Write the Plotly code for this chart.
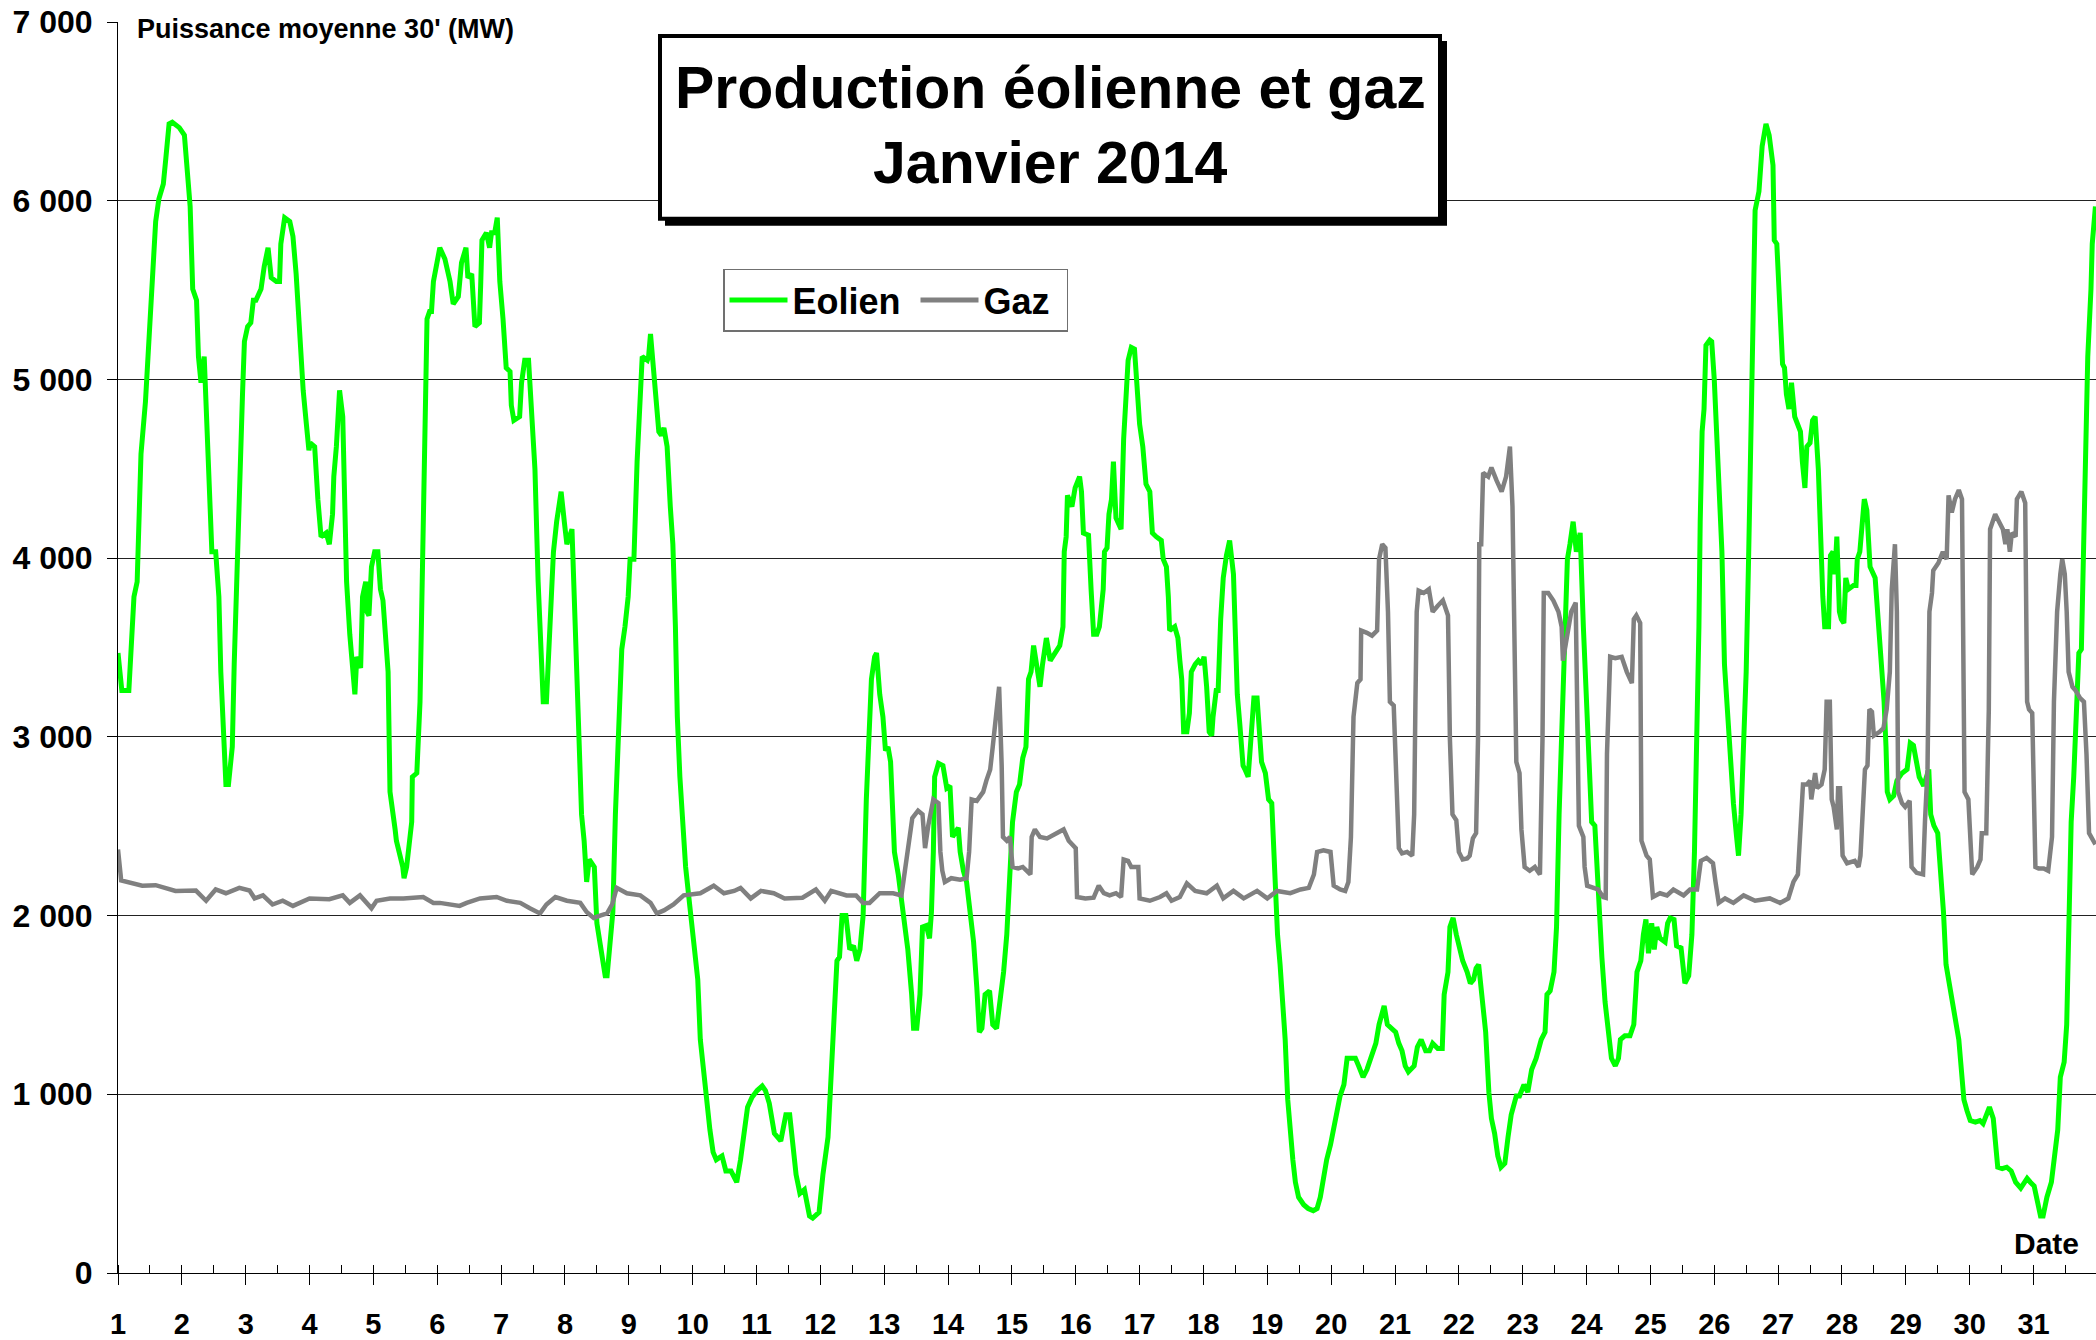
import plotly.graph_objects as go

# ---------------- data ----------------
EOL_DAY = [1.00,1.06,1.17,1.25,1.30,1.36,1.43,1.49,1.54,1.59,1.64,1.71,1.75,1.80,1.85,1.96,2.04,2.09,2.13,2.17,2.23,2.26,2.30,2.35,2.39,2.43,2.47,2.53,2.58,2.61,2.66,2.69,2.73,2.79,2.82,2.87,2.91,2.95,2.98,3.03,3.08,3.12,3.16,3.24,3.29,3.35,3.40,3.48,3.53,3.55,3.61,3.69,3.74,3.79,3.84,3.87,3.90,3.95,3.99,4.01,4.08,4.13,4.18,4.26,4.31,4.36,4.38,4.42,4.47,4.52,4.58,4.63,4.71,4.74,4.80,4.83,4.88,4.90,4.93,4.97,5.02,5.07,5.11,5.15,5.19,5.23,5.26,5.30,5.34,5.36,5.41,5.46,5.48,5.52,5.56,5.60,5.61,5.68,5.73,5.75,5.78,5.80,5.84,5.88,5.91,5.94,5.99,
    6.04,6.12,6.20,6.25,6.33,6.38,6.45,6.48,6.54,6.59,6.66,6.68,6.70,6.77,6.82,6.85,6.90,6.94,6.98,7.03,7.08,7.14,7.16,7.20,7.29,7.32,7.37,7.43,7.48,7.53,7.58,7.62,7.66,7.71,7.77,7.82,7.87,7.94,7.99,8.03,8.11,8.16,8.21,8.26,8.30,8.34,8.38,8.46,8.50,8.55,8.59,8.63,8.66,8.71,8.75,8.79,8.84,8.89,8.94,8.99,9.02,9.08,9.13,9.18,9.21,9.29,9.31,9.34,9.38,9.42,9.47,9.51,9.55,9.60,9.65,9.69,9.73,9.76,9.80,9.84,9.89,9.94,9.99,10.04,10.08,10.12,10.18,10.22,10.27,10.32,10.37,10.46,10.52,10.60,10.69,10.75,10.80,10.86,10.93,11.01,11.09,11.14,11.20,
    11.28,11.38,11.46,11.52,11.57,11.62,11.68,11.75,11.83,11.88,11.98,12.04,12.12,12.17,12.22,12.26,12.30,12.34,12.40,12.46,12.52,12.57,12.62,12.67,12.72,12.76,12.80,12.85,12.88,12.93,12.98,13.02,13.06,13.10,13.13,13.16,13.22,13.27,13.32,13.37,13.43,13.46,13.51,13.56,13.60,13.66,13.71,13.74,13.77,13.79,13.85,13.92,13.98,14.03,14.07,14.11,14.16,14.19,14.24,14.29,14.34,14.40,14.45,14.49,14.53,14.58,14.65,14.70,14.76,14.81,14.87,14.92,14.97,15.01,15.07,15.12,15.17,15.22,15.26,15.30,15.34,15.39,15.44,15.48,15.54,15.60,15.68,15.75,15.80,15.82,15.85,15.87,15.94,15.99,16.06,16.09,16.12,16.20,16.24,16.28,16.33,
    16.37,16.43,16.45,16.49,16.52,16.56,16.59,16.63,16.68,16.71,16.75,16.79,16.82,16.87,16.92,16.96,17.00,17.05,17.10,17.16,17.20,17.26,17.34,17.37,17.42,17.45,17.47,17.55,17.60,17.63,17.66,17.69,17.74,17.78,17.81,17.87,17.92,17.97,18.01,18.05,18.09,18.13,18.15,18.20,18.23,18.27,18.31,18.36,18.41,18.47,18.49,18.53,18.57,18.62,18.65,18.70,18.76,18.79,18.84,18.88,18.91,18.97,19.02,19.07,19.10,19.12,19.16,19.20,19.24,19.28,19.32,19.36,19.40,19.44,19.49,19.57,19.64,19.72,19.78,19.83,19.89,19.93,19.99,20.04,20.10,20.14,20.20,20.25,20.31,20.38,20.43,20.50,20.56,20.63,20.70,20.75,20.80,20.83,20.88,20.95,21.01,21.06,21.11,21.16,21.21,21.30,21.35,21.41,21.48,
    21.54,21.59,21.67,21.74,21.77,21.83,21.86,21.91,21.96,22.01,22.06,22.13,22.18,22.23,22.27,22.31,22.37,22.42,22.47,22.51,22.56,22.61,22.66,22.72,22.77,22.82,22.90,22.95,23.02,23.08,23.14,23.21,23.29,23.35,23.38,23.43,23.49,23.53,23.57,23.61,23.66,23.70,23.74,23.79,23.84,23.90,23.95,24.00,24.04,24.08,24.13,24.18,24.24,24.29,24.34,24.39,24.45,24.50,24.53,24.60,24.68,24.74,24.79,24.85,24.89,24.93,24.97,25.02,25.06,25.10,25.15,25.23,25.27,25.31,25.37,25.41,25.48,25.51,25.54,25.60,25.65,25.69,25.73,25.76,25.78,25.81,25.84,25.87,25.93,25.96,26.00,26.04,26.07,26.12,26.16,26.21,26.26,26.30,26.35,26.38,26.42,26.46,26.50,26.54,26.58,26.61,26.64,26.70,
    26.75,26.81,26.86,26.92,26.94,26.98,27.03,27.07,27.10,27.13,27.17,27.21,27.26,27.30,27.35,27.38,27.42,27.45,27.50,27.54,27.58,27.63,27.66,27.70,27.73,27.79,27.82,27.86,27.89,27.92,27.96,27.99,28.03,28.06,28.10,28.18,28.22,28.24,28.28,28.35,28.39,28.44,28.52,28.56,28.61,28.66,28.69,28.71,28.75,28.81,28.86,28.94,29.02,29.07,29.12,29.16,29.21,29.28,29.36,29.39,29.44,29.50,29.54,29.59,29.63,29.67,29.72,29.77,29.83,29.86,29.91,29.96,30.01,30.09,30.16,30.21,30.26,30.31,30.37,30.40,30.44,30.51,30.58,30.65,30.72,30.80,30.85,30.90,30.95,31.01,31.06,31.11,31.15,31.21,31.28,31.33,31.38,31.42,31.48,31.52,31.55,31.59,31.63,31.68,31.71,31.75,31.78,31.82,31.85,31.90,31.92,31.97]

EOL_MW = [3469,3259,3259,3784,3868,4582,4876,5254,5464,5884,6010,6094,6241,6430,6439,6409,6367,6136,5968,5506,5443,5128,4981,5128,4750,4246,4036,4036,3784,3364,2860,2734,2734,2944,3406,4036,4624,4918,5212,5296,5317,5443,5443,5506,5632,5737,5569,5548,5548,5758,5905,5884,5800,5590,5296,5086,4939,4750,4603,4645,4624,4330,4120,4141,4078,4246,4456,4624,4939,4792,3868,3574,3238,3448,3385,3784,3868,3700,3679,3952,4036,4036,3826,3763,3532,3364,2692,2608,2482,2419,2356,2272,2209,2272,2398,2524,2776,2797,3196,3616,4456,4876,5338,5380,5380,5548,5653,
    5737,5674,5548,5422,5464,5653,5737,5569,5590,5296,5317,5527,5779,5821,5737,5821,5821,5905,5548,5338,5065,5044,4855,4771,4792,4981,5107,5107,4792,4498,3868,3532,3196,3196,3616,4036,4204,4372,4204,4078,4162,3616,2986,2566,2419,2188,2314,2272,1957,1852,1768,1663,1663,1831,2020,2566,3070,3490,3616,3784,3994,3994,4540,4960,5128,5107,5128,5254,5044,4918,4708,4687,4729,4624,4288,4078,3616,3112,2776,2524,2272,2104,1936,1810,1642,1306,1096,949,802,676,634,655,571,571,508,634,781,928,983,1021,1046,1021,949,
    781,739,886,886,718,550,445,466,319,307,340,550,760,1138,1516,1747,1768,2000,2000,1810,1831,1747,1810,2000,2650,2986,3322,3448,3469,3238,3112,2923,2944,2860,2524,2356,2230,2104,1936,1810,1558,1369,1369,1558,1936,1944,1873,2020,2356,2776,2852,2839,2713,2726,2440,2461,2491,2356,2251,2188,2020,1852,1600,1348,1369,1558,1579,1390,1369,1516,1684,1894,2230,2524,2692,2734,2881,2944,3322,3364,3511,3406,3280,3406,3553,3427,3469,3511,3616,4036,4120,4351,4288,4393,4456,4372,4141,4129,3826,3574,3574,
    3616,3826,4036,4057,4246,4330,4540,4225,4183,4162,4666,4876,5107,5179,5170,4960,4750,4624,4414,4372,4141,4120,4099,3994,3952,3784,3595,3616,3553,3427,3322,3028,3028,3133,3364,3406,3427,3406,3448,3280,3028,3007,3112,3259,3259,3658,3889,4015,4099,3910,3700,3238,3070,2839,2818,2776,3070,3217,3217,2965,2860,2797,2650,2629,2356,2104,1894,1726,1516,1306,970,760,634,508,424,382,361,349,361,424,550,634,718,802,907,991,1054,1201,1201,1201,1159,1096,1138,1222,1285,1390,1474,1495,1390,1369,1348,1285,1243,1159,1126,1159,1264,1306,1243,
    1243,1285,1256,1256,1558,1684,1936,1987,1894,1810,1747,1684,1621,1642,1705,1726,1516,1348,1012,865,781,655,592,613,760,886,991,991,1054,1012,1138,1201,1306,1348,1558,1579,1684,1936,2566,3070,3532,3994,4078,4204,4036,4141,3616,3154,2860,2524,2503,2104,1768,1516,1369,1201,1159,1201,1306,1327,1327,1390,1684,1747,1894,1978,1789,1957,1810,1936,1873,1852,1957,1987,1978,1831,1819,1705,1621,1663,1894,2356,2986,3616,4204,4708,4834,5191,5220,5212,5002,4708,4372,4036,3406,3091,2818,2629,2440,2335,2566,2944,3364,4036,4708,5296,5947,6052,
    6304,6430,6367,6199,5779,5758,5422,5086,5065,4918,4834,4981,4792,4750,4708,4540,4393,4624,4645,4771,4792,4498,4162,3784,3616,3616,4015,4036,3910,4120,3700,3658,3637,3889,3826,3847,3847,3994,4036,4330,4267,3952,3889,3700,3406,3196,2944,2692,2650,2671,2755,2797,2818,2965,2952,2860,2776,2726,2818,2566,2503,2461,2272,2020,1726,1642,1516,1411,1306,1180,970,907,853,844,853,836,886,928,865,739,592,584,592,571,508,475,508,529,508,487,403,319,319,424,508,634,802,1096,1180,1390,1936,2524,2776,3280,3469,3490,4036,4624,5128,5506,5758,5968]

GAZ_DAY = [1.00,1.05,1.38,1.59,1.90,2.22,2.38,2.53,2.69,2.90,3.06,3.14,3.27,3.42,3.58,3.74,4.00,4.16,4.31,4.52,4.63,4.79,4.97,5.05,5.26,5.47,5.78,5.94,6.04,
    6.35,6.46,6.67,6.93,7.09,7.30,7.45,7.61,7.71,7.85,8.03,8.24,8.34,8.45,8.55,8.66,8.74,8.81,8.97,9.18,9.34,9.44,9.55,9.70,9.86,10.12,10.33,10.49,10.65,10.75,10.91,11.07,11.27,
    11.44,11.72,11.93,12.07,12.17,12.41,12.56,12.67,12.77,12.93,13.14,13.27,13.32,13.39,13.44,13.53,13.60,13.64,13.69,13.77,13.85,13.88,13.91,13.95,14.05,14.19,14.29,14.33,14.37,14.45,14.55,14.60,14.66,14.70,14.75,14.80,14.84,14.86,14.92,14.97,15.01,15.10,15.17,15.29,15.31,15.36,15.44,15.55,15.70,15.81,15.89,15.94,16.00,16.02,16.15,16.28,16.36,16.44,
    16.53,16.63,16.71,16.75,16.82,16.87,16.98,17.00,17.16,17.32,17.42,17.50,17.63,17.74,17.87,18.05,18.21,18.31,18.47,18.63,18.84,19.00,19.15,19.36,19.52,19.65,19.73,19.78,19.88,19.99,20.04,20.14,20.22,20.27,20.31,20.35,20.41,20.46,20.47,20.56,20.64,20.72,20.75,20.80,20.85,20.89,20.92,20.98,21.02,21.06,21.11,21.19,21.27,21.30,21.32,21.34,21.37,21.45,21.53,
    21.59,21.67,21.75,21.83,21.86,21.90,21.96,22.00,22.06,22.13,22.17,22.22,22.27,22.30,22.32,22.35,22.38,22.46,22.51,22.59,22.67,22.74,22.80,22.84,22.87,22.90,22.95,22.98,23.03,23.11,23.19,23.27,23.31,23.33,23.40,23.48,23.56,23.61,23.63,23.68,23.76,23.83,23.85,23.88,23.95,23.97,24.01,24.10,24.18,24.26,24.30,24.32,24.37,24.45,24.55,24.63,24.71,24.74,24.78,24.84,24.86,24.94,24.99,25.04,25.15,25.26,25.36,25.52,25.62,25.73,25.79,25.88,25.98,26.02,26.07,26.17,26.30,26.46,26.64,
    26.87,27.03,27.16,27.24,27.31,27.35,27.39,27.45,27.50,27.52,27.58,27.61,27.68,27.73,27.76,27.81,27.84,27.87,27.92,27.94,27.97,28.01,28.08,28.20,28.26,28.29,28.32,28.36,28.40,28.43,28.47,28.50,28.59,28.65,28.70,28.75,28.78,28.81,28.83,28.86,28.88,28.94,28.99,29.06,29.09,29.17,29.27,29.30,29.34,29.37,29.41,29.43,29.51,29.58,29.64,29.67,29.72,29.77,29.83,29.88,29.92,29.98,30.04,30.12,30.17,30.19,30.26,30.30,30.32,30.40,30.48,30.52,30.56,30.59,30.63,30.66,30.72,30.74,30.81,30.87,30.90,30.93,30.98,31.01,31.03,31.08,31.16,31.23,31.26,31.29,31.32,31.37,31.42,31.45,31.49,31.52,31.55,31.61,31.66,31.73,31.79,31.83,31.87,31.95,31.97]

GAZ_MW = [2370,2197,2167,2170,2138,2140,2083,2146,2125,2155,2140,2096,2113,2062,2083,2054,2096,2096,2092,2113,2071,2113,2041,2083,2096,2096,2104,2071,2071,
    2054,2071,2096,2104,2083,2071,2041,2012,2062,2104,2083,2071,2020,1987,2000,2012,2062,2155,2125,2113,2071,2012,2029,2062,2113,2125,2167,2125,2138,2155,2096,2138,2125,
    2096,2100,2146,2083,2138,2113,2113,2071,2071,2125,2125,2113,2230,2398,2545,2587,2566,2377,2503,2650,2629,2356,2251,2188,2209,2201,2209,2356,2650,2642,2692,2755,2818,2944,3112,3280,2839,2440,2419,2440,2272,2264,2272,2230,2440,2482,2440,2432,2461,2482,2419,2398,2377,2104,2096,2100,2167,2125,
    2113,2125,2104,2314,2306,2272,2272,2096,2083,2104,2125,2083,2104,2180,2138,2125,2167,2096,2138,2096,2138,2096,2138,2125,2146,2155,2230,2356,2365,2356,2167,2146,2138,2188,2440,3112,3301,3322,3595,3582,3566,3595,3994,4078,4057,3700,3196,3175,2776,2377,2348,2356,2335,2566,3196,3700,3818,3805,3826,
    3700,3734,3763,3679,2986,2566,2533,2356,2314,2320,2335,2432,2461,2986,4078,4078,4477,4456,4507,4435,4372,4456,4624,4288,3616,2860,2797,2482,2272,2251,2272,2230,2986,3805,3805,3763,3700,3616,3427,3532,3700,3751,3196,2503,2440,2272,2167,2155,2146,2104,2100,2902,3448,3440,3448,3364,3301,3658,3679,3637,2419,2335,2314,2104,2125,2113,2146,2113,2146,2146,2306,2323,2293,2188,2071,2096,2071,2113,2083,
    2096,2071,2096,2188,2230,2482,2734,2734,2755,2650,2797,2713,2734,2818,3196,3196,2650,2608,2482,2713,2713,2335,2293,2306,2272,2335,2524,2818,2839,3154,3140,3007,3028,3049,3154,3364,3826,4057,4078,3700,2692,2629,2608,2642,2272,2239,2230,2524,2818,3700,3805,3931,3973,4036,3994,4351,4255,4330,4381,4330,2692,2650,2230,2272,2314,2461,2461,3154,4162,4246,4183,4162,4078,4162,4036,4141,4120,4330,4372,4309,3196,3154,3133,2692,2272,2264,2264,2251,2356,2440,3196,3700,3910,3994,3910,3700,3364,3280,3259,3217,3196,2902,2461,2419,2398]

DAY_TICKS = list(range(1, 32))
DAY_LABELS = [str(d) for d in DAY_TICKS]
Y_TICKS = [0, 1000, 2000, 3000, 4000, 5000, 6000, 7000]
Y_LABELS = ["0", "1 000", "2 000", "3 000", "4 000", "5 000", "6 000", "7 000"]

SERIES_NAMES = ["Eolien", "Gaz"]
TITLE_LINES = ["Production éolienne et gaz", "Janvier 2014"]
Y_TITLE = "Puissance moyenne 30' (MW)"
X_TITLE = "Date"

# ---------------- layout geometry (pixels) ----------------
W, H = 2096, 1340
ML, MR, MT, MB = 118, 0, 22, 65
PW = W - ML - MR
PH = H - MT - MB

def px_x(x):
    return (x - ML) / PW

def px_y(y):
    return (H - MB - y) / PH

FONT = "Liberation Sans, Arial, sans-serif"
GREEN = "#00FF00"
GREY = "#808080"

fig = go.Figure()
fig.add_trace(go.Scatter(x=EOL_DAY, y=EOL_MW, mode="lines", name=SERIES_NAMES[0],
                         legendwidth=118,
                         line=dict(color=GREEN, width=5)))
fig.add_trace(go.Scatter(x=GAZ_DAY, y=GAZ_MW, mode="lines", name=SERIES_NAMES[1],
                         legendwidth=78,
                         line=dict(color=GREY, width=4.5)))

x_end = 1 + (W - ML) / 63.85

fig.update_xaxes(range=[1, x_end], tickvals=DAY_TICKS, ticktext=DAY_LABELS,
                 showgrid=False, zeroline=False, showline=True, linecolor="black", linewidth=1,
                 ticks="outside", ticklen=11, tickcolor="black", tickwidth=1,
                 ticklabelstandoff=14,
                 tickfont=dict(family=FONT, size=29, color="black", weight="bold"),
                 minor=dict(dtick=0.5, tick0=1, ticks="inside", ticklen=8,
                            tickcolor="black", tickwidth=1, showgrid=False))
fig.update_yaxes(range=[0, 7000], tickvals=Y_TICKS, ticktext=Y_LABELS,
                 showgrid=True, gridcolor="#222222", gridwidth=1, zeroline=False,
                 showline=True, linecolor="black", linewidth=1,
                 ticks="outside", ticklen=10, tickcolor="black", tickwidth=1,
                 ticklabelstandoff=8,
                 tickfont=dict(family=FONT, size=32, color="black", weight="bold"))

shapes = [
    # title box shadow and box
    dict(type="rect", xref="paper", yref="paper", layer="above",
         x0=px_x(665), x1=px_x(1447), y0=px_y(41), y1=px_y(226),
         fillcolor="black", line=dict(width=0)),
    dict(type="rect", xref="paper", yref="paper", layer="above",
         x0=px_x(660), x1=px_x(1440), y0=px_y(36), y1=px_y(219),
         fillcolor="white", line=dict(color="black", width=4)),
]

annotations = [
    dict(text=TITLE_LINES[0], xref="paper", yref="paper", x=px_x(1050), y=px_y(88),
         xanchor="center", yanchor="middle", showarrow=False,
         font=dict(family=FONT, size=59, color="black", weight="bold")),
    dict(text=TITLE_LINES[1], xref="paper", yref="paper", x=px_x(1050), y=px_y(163),
         xanchor="center", yanchor="middle", showarrow=False,
         font=dict(family=FONT, size=59, color="black", weight="bold")),
    dict(text=Y_TITLE, xref="paper", yref="paper", x=px_x(133), y=px_y(29),
         xanchor="left", yanchor="middle", showarrow=False, bgcolor="white", borderpad=3,
         font=dict(family=FONT, size=27, color="black", weight="bold")),
    dict(text=X_TITLE, xref="paper", yref="paper", x=px_x(2046), y=px_y(1245),
         xanchor="center", yanchor="middle", showarrow=False,
         font=dict(family=FONT, size=30, color="black", weight="bold")),
]

fig.update_layout(
    width=W, height=H,
    margin=dict(l=ML, r=MR, t=MT, b=MB, pad=0),
    paper_bgcolor="white", plot_bgcolor="white",
    showlegend=True,
    legend=dict(orientation="h", x=px_x(723), y=px_y(269), xanchor="left", yanchor="top",
                bgcolor="white", bordercolor="#707070", borderwidth=1.5,
                font=dict(family=FONT, size=36, color="black", weight="bold"),
                itemwidth=58, itemsizing="constant"),
    shapes=shapes,
    annotations=annotations,
)

fig.write_html("out.html", config={"displayModeBar": False},
               post_script="document.body.style.margin='0';document.body.style.padding='0';"
                           "document.body.style.overflow='hidden';")
